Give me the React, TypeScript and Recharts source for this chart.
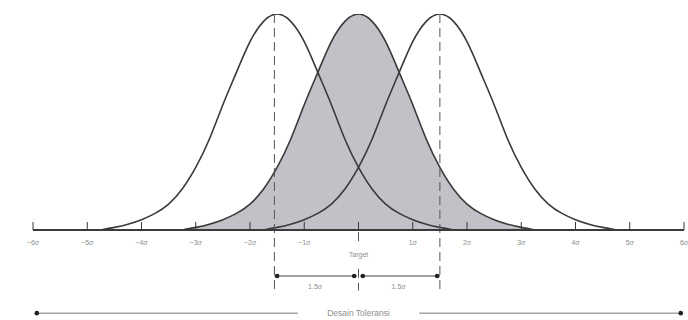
import { ComposedChart, Area, Line, XAxis, YAxis, ReferenceLine, ReferenceDot } from 'recharts';

const offsets = [-3.25,-3,-2.75,-2.5,-2.25,-2,-1.75,-1.5,-1.25,-1,-0.75,-0.5,-0.25,0,0.25,0.5,0.75,1,1.25,1.5,1.75,2,2.25,2.5,2.75,3,3.25];
const profile = [0,0.012,0.027,0.048,0.077,0.12,0.19,0.29,0.42,0.58,0.73,0.872,0.966,1,0.966,0.872,0.73,0.58,0.42,0.29,0.19,0.12,0.077,0.048,0.027,0.012,0];
const means = { left: -1.5, center: 0, right: 1.5 };

const ticks = [-6,-5,-4,-3,-2,-1,0,1,2,3,4,5,6];
const tickLabels = ['−6σ','−5σ','−4σ','−3σ','−2σ','−1σ','Target','1σ','2σ','3σ','4σ','5σ','6σ'];

const shiftLabel = '1.5σ';
const toleranceLabel = 'Desain Toleransi';

const rows: Record<string, any> = {};
(Object.keys(means) as (keyof typeof means)[]).forEach(k => {
  offsets.forEach((o, i) => {
    const x = means[k] + o;
    const key = x.toFixed(2);
    if (!rows[key]) rows[key] = { x };
    rows[key][k] = profile[i];
  });
});
const data = Object.values(rows).sort((a: any, b: any) => a.x - b.x);

const INK = '#3a3a3a';
const GREY = '#8e8e8e';
const FONT = '"Liberation Sans", Arial, sans-serif';

function AxisTick(props: any) {
  const { x, y, payload } = props;
  const i = ticks.indexOf(payload.value);
  const isTarget = payload.value === 0;
  return (
    <g>
      <line x1={x} y1={y - 8} x2={x} y2={y} stroke={INK} strokeWidth={1} />
      <text x={x} y={isTarget ? y + 27 : y + 15} textAnchor="middle" fontSize={7} fill={GREY} fontFamily={FONT}>
        {tickLabels[i]}
      </text>
    </g>
  );
}

const dash = { stroke: '#555', strokeWidth: 1, strokeDasharray: '9 5', ifOverflow: 'visible' as const };
const dimLine = { stroke: '#444', strokeWidth: 1.2, ifOverflow: 'visible' as const };
const dot = { r: 2.3, fill: '#222', stroke: 'none', ifOverflow: 'visible' as const };
const textDot = (value: string, size: number) => ({
  r: 0, fill: 'none', stroke: 'none', ifOverflow: 'visible' as const,
  label: { value, position: 'center' as const, fill: GREY, fontSize: size, fontFamily: FONT },
});

export default function App() {
  return (
    <div style={{ position: 'absolute', left: 0, top: 0, width: 688, height: 320, background: '#fff' }}>
      <ComposedChart width={688} height={320} data={data} margin={{ top: 14, right: 4, bottom: 60, left: 33 }}>
        <XAxis type="number" dataKey="x" domain={[-6, 6]} ticks={ticks} height={30}
          tick={<AxisTick />} tickLine={false} tickSize={0} tickMargin={0}
          axisLine={{ stroke: INK, strokeWidth: 2 }} allowDataOverflow />
        <YAxis hide domain={[0, 1]} allowDataOverflow />

        <Area type="natural" dataKey="center" stroke={INK} strokeWidth={1.6} fill="#c1c1c8" fillOpacity={1}
          isAnimationActive={false} connectNulls={false} />
        <Line type="natural" dataKey="left" stroke={INK} strokeWidth={1.6} dot={false} isAnimationActive={false} />
        <Line type="natural" dataKey="right" stroke={INK} strokeWidth={1.6} dot={false} isAnimationActive={false} />

        {/* dashed mean markers */}
        <ReferenceLine segment={[{ x: -1.55, y: 1 }, { x: -1.55, y: -0.28 }]} {...dash} />
        <ReferenceLine segment={[{ x: 1.5, y: 1 }, { x: 1.5, y: -0.28 }]} {...dash} />
        <ReferenceLine segment={[{ x: 0, y: -0.01 }, { x: 0, y: -0.06 }]} {...dash} />
        <ReferenceLine segment={[{ x: 0, y: -0.18 }, { x: 0, y: -0.28 }]} {...dash} />

        {/* 1.5 sigma shift dimensions */}
        <ReferenceLine segment={[{ x: -1.55, y: -0.213 }, { x: -0.03, y: -0.213 }]} {...dimLine} />
        <ReferenceLine segment={[{ x: 0.03, y: -0.213 }, { x: 1.5, y: -0.213 }]} {...dimLine} />
        <ReferenceDot x={-1.5} y={-0.213} {...dot} />
        <ReferenceDot x={-0.08} y={-0.213} {...dot} />
        <ReferenceDot x={0.08} y={-0.213} {...dot} />
        <ReferenceDot x={1.45} y={-0.213} {...dot} />
        <ReferenceDot x={-0.8} y={-0.262} {...textDot(shiftLabel, 7)} />
        <ReferenceDot x={0.74} y={-0.262} {...textDot(shiftLabel, 7)} />

        {/* design tolerance */}
        <ReferenceLine segment={[{ x: -5.96, y: -0.385 }, { x: -1.12, y: -0.385 }]} stroke="#777" strokeWidth={1} ifOverflow="visible" />
        <ReferenceLine segment={[{ x: 1.12, y: -0.385 }, { x: 5.97, y: -0.385 }]} stroke="#777" strokeWidth={1} ifOverflow="visible" />
        <ReferenceDot x={-5.93} y={-0.385} {...dot} />
        <ReferenceDot x={5.94} y={-0.385} {...dot} />
        <ReferenceDot x={0} y={-0.385} {...textDot(toleranceLabel, 8.5)} />
      </ComposedChart>
    </div>
  );
}
